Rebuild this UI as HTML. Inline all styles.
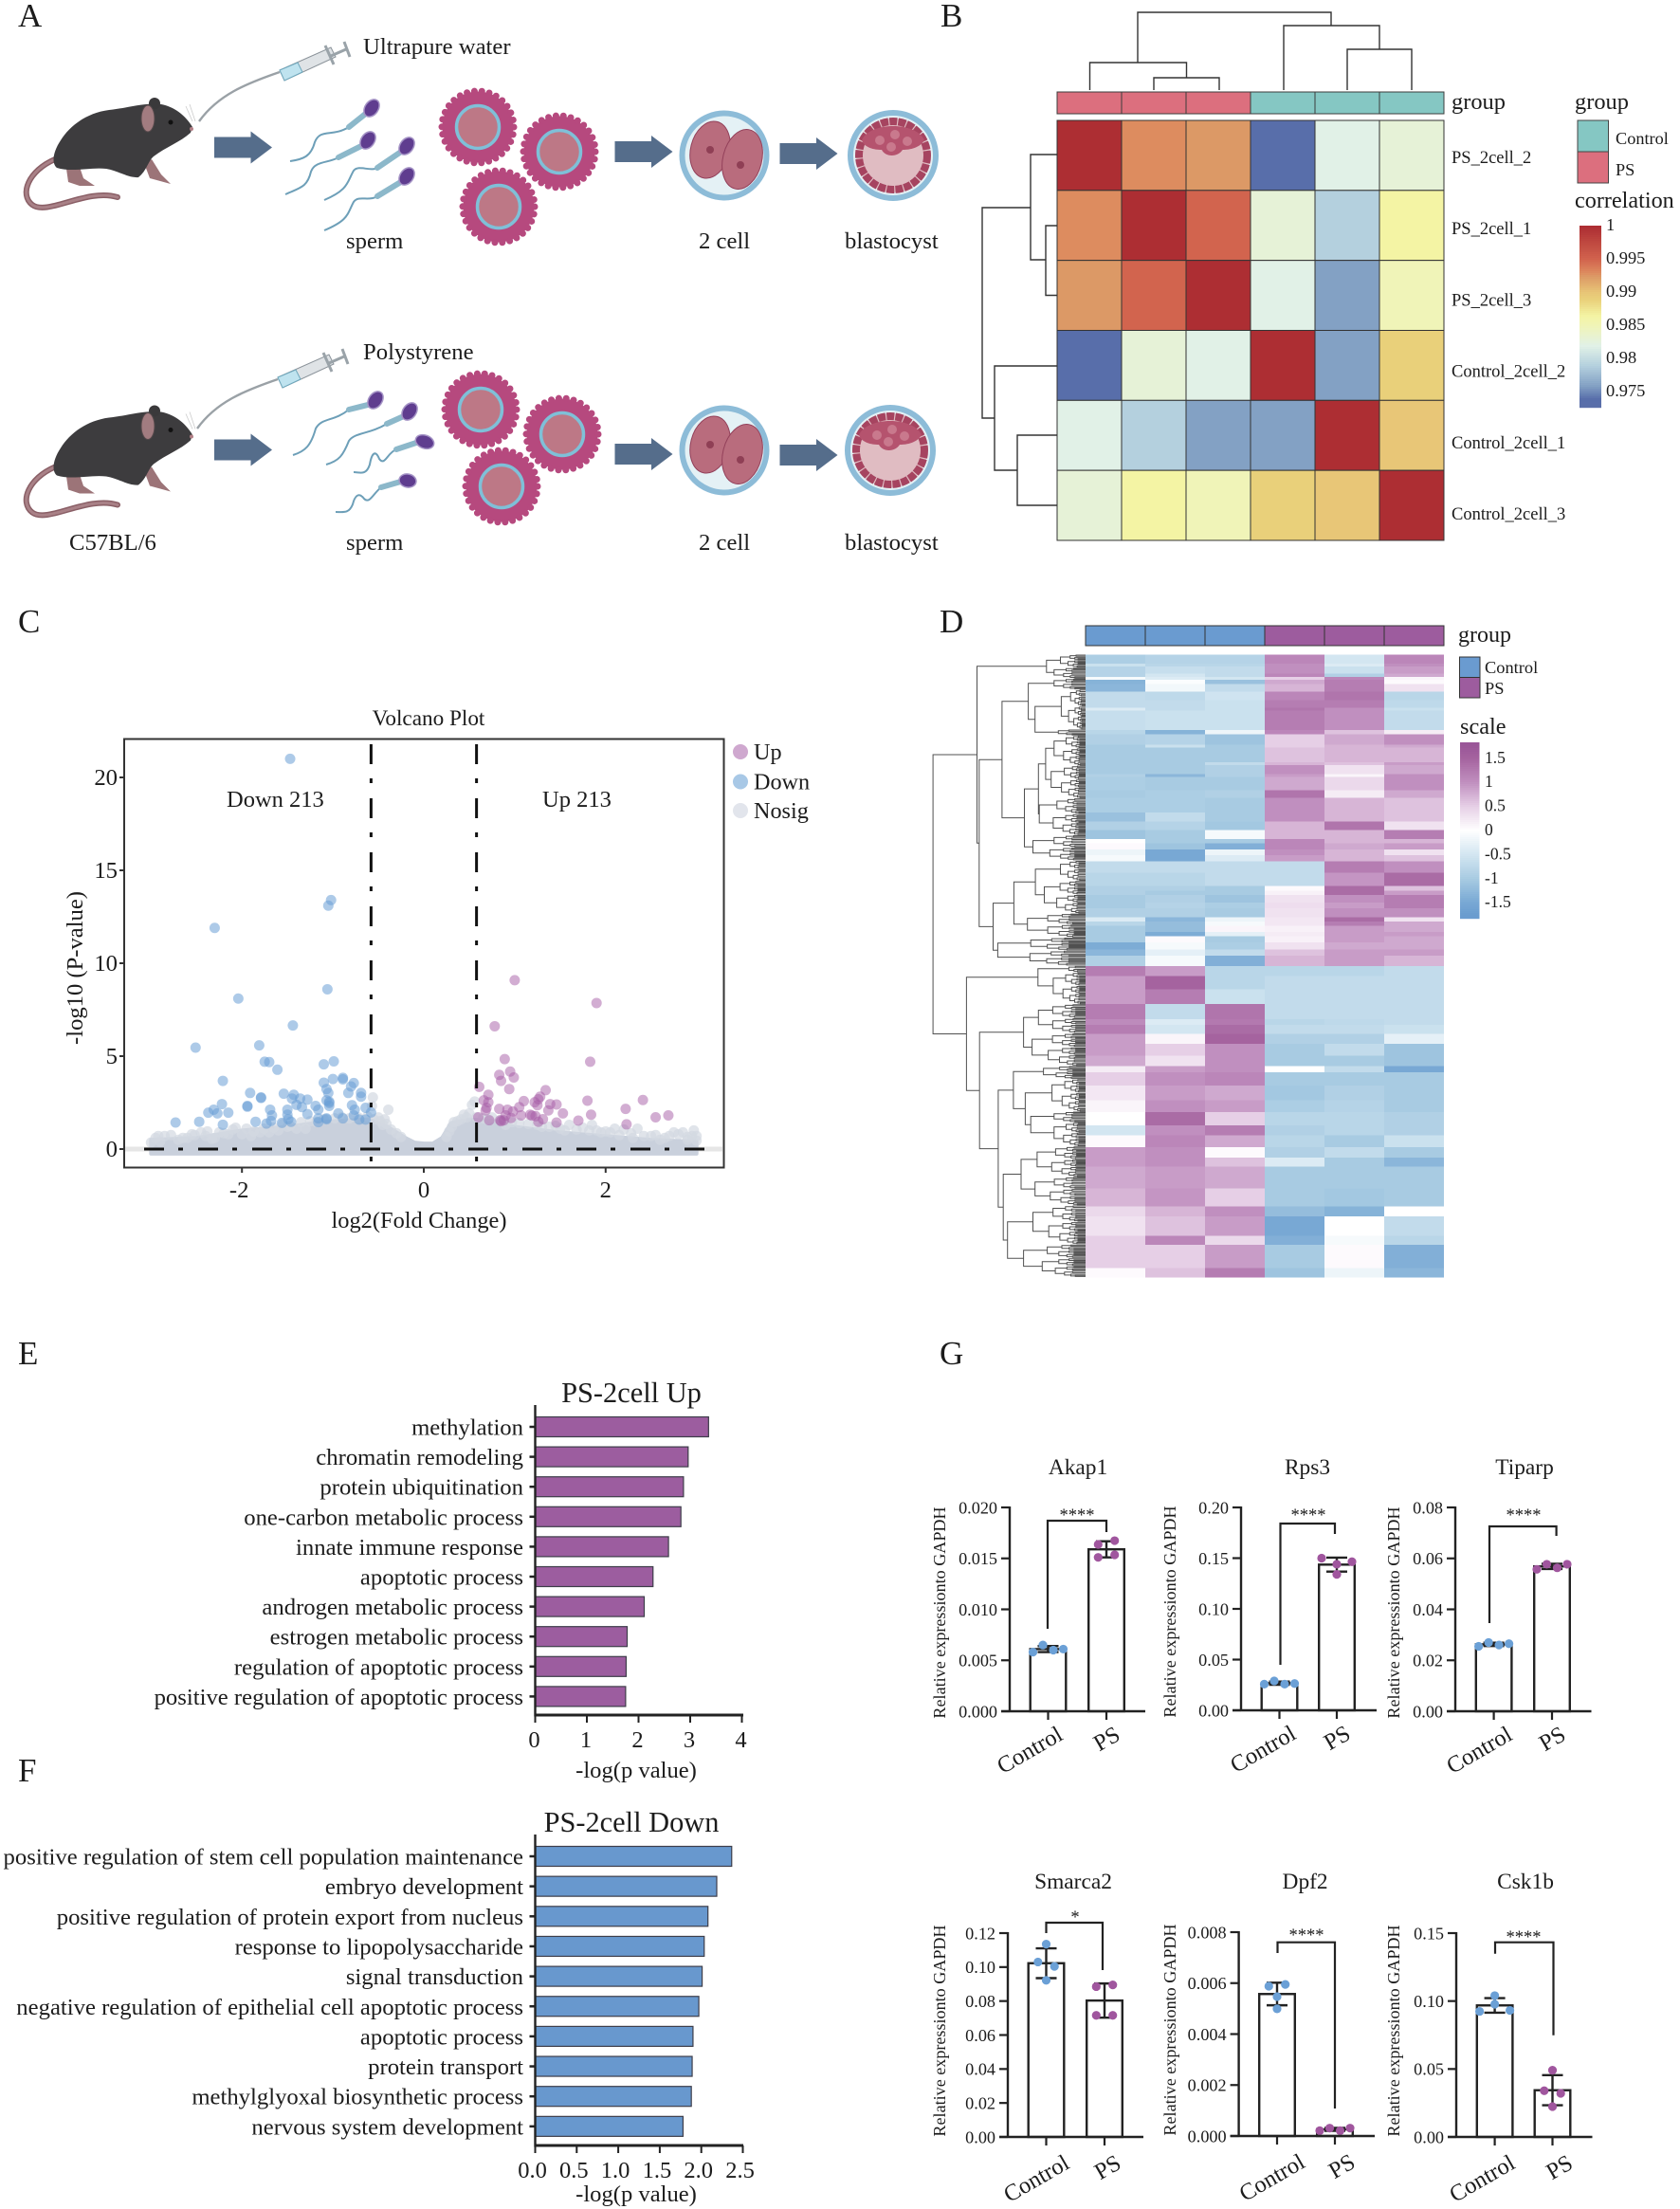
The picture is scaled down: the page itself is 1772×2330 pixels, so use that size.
<!DOCTYPE html>
<html lang="en">
<head>
<meta charset="utf-8">
<title>Multi-panel figure</title>
<style>
html,body{margin:0;padding:0;background:#fff;}
svg{display:block;}
text{font-family:"Liberation Serif","Noto Serif CJK SC",serif;fill:#1c1c1c;}
</style>
</head>
<body>
<svg id="figure" width="1772" height="2330" viewBox="0 0 1772 2330">
<defs>
  <g id="mouse-art">
    <path d="M58,168 C30,180 20,205 34,216 C50,228 92,198 124,208" fill="none" stroke="#8a5f66" stroke-width="6" stroke-linecap="round"/>
    <path d="M58,168 C30,180 20,205 34,216 C50,228 92,198 124,208" fill="none" stroke="#a98187" stroke-width="3" stroke-linecap="round"/>
    <path d="M70,178 L72,192 L84,196 L100,196 L88,188 L84,176 Z" fill="#9c7478"/>
    <path d="M152,172 L158,188 L180,194 L170,184 L160,168 Z" fill="#9c7478"/>
    <path d="M203,134 C197,124 186,113 170,110 C150,108 135,114 115,116 C92,119 74,132 64,148 C56,160 54,172 60,177 C76,182 96,176 112,178 C125,180 135,188 146,187 C155,180 156,170 162,165 C175,155 190,150 201,140 Z" fill="#3d3c3e"/>
    <circle cx="163" cy="109" r="6" fill="#3a393b"/>
    <ellipse cx="156" cy="125" rx="7" ry="14" fill="#a27c80" stroke="#55494b"/>
    <circle cx="180" cy="129" r="2.5" fill="#111"/>
    <circle cx="202" cy="136" r="2" fill="#b27f86"/>
    <path d="M200,110 L206,128 M196,112 L203,128" stroke="#ccc" stroke-width="0.8"/>
  </g>
  <g id="syringe-art">
    <path d="M295,74 L349,50 L354,60 L300,85 Z" fill="#dfe3e6" stroke="#8a9299"/>
    <path d="M295,74 L314,66 L319,76 L300,85 Z" fill="#bfe3ef" stroke="#6fa8bd"/>
    <path d="M343,48 L352,68 M349,59 L365,52 M363,44 L369,60" stroke="#9aa3a9" stroke-width="3" fill="none"/>
  </g>
  <g id="oocyte-art">
    <circle r="37.5" fill="#b6497e"/>
    <circle r="38" fill="none" stroke="#b6497e" stroke-width="7" stroke-linecap="round" stroke-dasharray="0 7.96"/>
    <circle r="22.5" fill="#bd7886" stroke="#7fc0d8" stroke-width="3.5"/>
  </g>
  <g id="twocell-art">
    <circle r="44.5" fill="#e4f1f5" stroke="#8dbcd8" stroke-width="6"/>
    <ellipse cx="-15" cy="-6" rx="20.5" ry="30.5" fill="#b96c7d" stroke="#93405a" stroke-width="1" transform="rotate(14 -15 -6)"/>
    <ellipse cx="19" cy="4" rx="20.5" ry="32" fill="#b96c7d" stroke="#93405a" stroke-width="1" transform="rotate(14 19 4)"/>
    <circle cx="-15" cy="-6" r="4" fill="#8f3f55"/>
    <circle cx="17" cy="10" r="4" fill="#8f3f55"/>
  </g>
  <g id="blastocyst-art">
    <circle r="45" fill="#e4f1f5" stroke="#8dbcd8" stroke-width="6"/>
    <circle r="39" fill="#e0bcc2"/>
    <circle r="36" fill="none" stroke="#a64460" stroke-width="8" stroke-dasharray="8 1.2"/>
    <path d="M-33,-16 C-25,-36 25,-36 33,-16 C28,-8 18,-6 10,-6 C5,2 -8,2 -12,-6 C-20,-6 -30,-8 -33,-16 Z" fill="#b5536e"/>
    <circle cx="-14" cy="-16" r="5" fill="#c9798d"/><circle cx="2" cy="-22" r="5" fill="#c9798d"/><circle cx="15" cy="-15" r="5" fill="#c9798d"/><circle cx="-2" cy="-9" r="5" fill="#c9798d"/>
  </g>
  <g id="arrow-art"><path d="M-30.5,-11 L8,-11 L8,-17 L30.5,0 L8,17 L8,11 L-30.5,11 Z" fill="#556d8b"/></g>
</defs>

<g id="panel-a">
  <text x="19" y="28" font-size="35">A</text>
  <use href="#mouse-art"/>
  <use href="#mouse-art" y="324.5"/>
  <use href="#syringe-art"/>
  <use href="#syringe-art" x="-2" y="324"/>
  <path d="M295,76 C260,88 230,100 210,128" fill="none" stroke="#9aa1a6" stroke-width="2.4"/>
  <path d="M293,400 C258,412 228,424 208,452" fill="none" stroke="#9aa1a6" stroke-width="2.4"/>
  <text x="383" y="57" font-size="24.7">Ultrapure water</text>
  <text x="383" y="379" font-size="24.7">Polystyrene</text>
  <use href="#arrow-art" x="256.5" y="155.5"/>
  <use href="#arrow-art" x="679" y="160"/>
  <use href="#arrow-art" x="853" y="162"/>
  <use href="#arrow-art" x="256.5" y="474.5"/>
  <use href="#arrow-art" x="679" y="479"/>
  <use href="#arrow-art" x="853" y="480"/>
  <g fill="none" stroke="#6d9fb8" stroke-width="2">
    <path d="M368,134 C350,145 338,135 332,150 C328,165 320,168 306,170"/>
    <path d="M355,167 C345,172 332,170 328,181 C324,198 316,198 301,205"/>
    <path d="M396,178 C388,180 378,174 373,180 C366,192 368,200 342,211"/>
    <path d="M396,208 C388,212 378,206 373,213 C366,226 368,232 342,243"/>
    <path d="M388,118 L368,134 M385,152 L357,166 M426,158 L398,177 M426,190 L398,207" stroke="#8cb8ca" stroke-width="6" stroke-linecap="round"/>
  </g>
  <g fill="#5f3d8f" stroke="#a594c6" stroke-width="1.5">
    <ellipse cx="392" cy="114" rx="7" ry="10" transform="rotate(35 392 114)"/>
    <ellipse cx="388" cy="148" rx="7" ry="10" transform="rotate(35 388 148)"/>
    <ellipse cx="429" cy="154" rx="7" ry="10" transform="rotate(35 429 154)"/>
    <ellipse cx="429" cy="186" rx="7" ry="10" transform="rotate(35 429 186)"/>
  </g>
  <g fill="none" stroke="#6d9fb8" stroke-width="2">
    <path d="M368,432 C352,445 340,440 333,452 C328,470 322,476 309,480"/>
    <path d="M408,447 C390,458 374,456 368,465 C362,480 358,486 344,490"/>
    <path d="M418,474 C408,478 406,492 400,484 C396,474 392,478 390,490 C386,502 380,498 373,498"/>
    <path d="M402,514 C394,520 390,532 384,526 C378,518 374,524 372,532 C368,542 362,540 354,540"/>
    <path d="M392,426 L368,432 M428,438 L408,447 M442,466 L418,474 M426,507 L402,514" stroke="#8cb8ca" stroke-width="6" stroke-linecap="round"/>
  </g>
  <g fill="#5f3d8f" stroke="#a594c6" stroke-width="1.5">
    <ellipse cx="396" cy="422" rx="7" ry="10" transform="rotate(35 396 422)"/>
    <ellipse cx="432" cy="434" rx="7" ry="10" transform="rotate(35 432 434)"/>
    <ellipse cx="448" cy="466" rx="10" ry="7" transform="rotate(20 448 466)"/>
    <ellipse cx="430" cy="507" rx="9" ry="7" transform="rotate(10 430 507)"/>
  </g>
  <use href="#oocyte-art" x="504" y="134"/>
  <use href="#oocyte-art" x="590" y="160"/>
  <use href="#oocyte-art" x="526" y="218"/>
  <use href="#oocyte-art" x="507" y="432"/>
  <use href="#oocyte-art" x="593" y="458"/>
  <use href="#oocyte-art" x="529" y="513"/>
  <use href="#twocell-art" x="764" y="164"/>
  <use href="#twocell-art" x="764" y="475"/>
  <use href="#blastocyst-art" x="942" y="164"/>
  <use href="#blastocyst-art" x="939" y="475"/>
  <text x="365" y="262" font-size="24.7">sperm</text>
  <text x="737" y="262" font-size="24.7">2 cell</text>
  <text x="891" y="262" font-size="24.7">blastocyst</text>
  <text x="73" y="580" font-size="24.7">C57BL/6</text>
  <text x="365" y="580" font-size="24.7">sperm</text>
  <text x="737" y="580" font-size="24.7">2 cell</text>
  <text x="891" y="580" font-size="24.7">blastocyst</text>
</g>

<g id="panel-b">
  <text x="992" y="28" font-size="35">B</text>
  <path fill="none" stroke="#333" stroke-width="1.4" d="M1149.5,95 V66 H1251.5 V82 M1217,95 V82 H1286 V95 M1200,66 V13 H1404 V27 M1354,95 V27 H1455 V52 M1421,95 V52 H1489 V95"/>
  <path fill="none" stroke="#333" stroke-width="1.4" d="M1115,163 H1087 V274 H1103 M1115,238 H1103 V311.5 H1115 M1087,219 H1036 V441 H1049 M1115,386 H1049 V496 H1073 M1115,459 H1073 V533 H1115"/>
  <g id="b-annot"></g><g id="b-cells"></g>
  <text x="1531" y="115" font-size="24.4">group</text>
  <text x="1661" y="115" font-size="24.4">group</text>
  <rect x="1664" y="127" width="32.5" height="33" fill="#85c7c3" stroke="#444" stroke-width="1"/>
  <rect x="1664" y="160" width="32.5" height="33" fill="#dc6f7e" stroke="#444" stroke-width="1"/>
  <text x="1704" y="152" font-size="18.3">Control</text>
  <text x="1704" y="185" font-size="18.3">PS</text>
  <text x="1661" y="219" font-size="24.2">correlation</text>
  <g id="b-colorbar"></g>
</g>

<g id="panel-c">
  <text x="19" y="667" font-size="35">C</text>
  <g id="c-plot"></g>
</g>

<g id="panel-d">
  <text x="991" y="667" font-size="35">D</text>
  <path id="d-tree" fill="none" stroke="#505050" stroke-width="1"/>
  <g id="d-annot"></g><g id="d-cells"></g>
  <text x="1538" y="677" font-size="24">group</text>
  <rect x="1539.5" y="693" width="21.5" height="21.5" fill="#6a9bd0" stroke="#333" stroke-width="1"/>
  <rect x="1539.5" y="714.5" width="21.5" height="21.5" fill="#9d5c9e" stroke="#333" stroke-width="1"/>
  <text x="1566" y="710" font-size="18.4">Control</text>
  <text x="1566" y="732" font-size="18.4">PS</text>
  <text x="1540" y="774" font-size="24.3">scale</text>
  <g id="d-colorbar"></g>
</g>

<g id="panel-e">
  <text x="19" y="1439" font-size="35">E</text>
  <text x="666" y="1479" font-size="30.4" text-anchor="middle">PS-2cell Up</text>
  <g id="e-plot"></g>
  <text x="671" y="1875" font-size="24.6" text-anchor="middle">-log(p value)</text>
</g>

<g id="panel-f">
  <text x="19" y="1879" font-size="35">F</text>
  <text x="666" y="1932" font-size="30.4" text-anchor="middle">PS-2cell Down</text>
  <g id="f-plot"></g>
  <text x="671" y="2322" font-size="24.6" text-anchor="middle">-log(p value)</text>
</g>

<g id="panel-g">
  <text x="991" y="1439" font-size="35">G</text>
  <g id="g-plots"></g>
</g>
</svg>

<script>
/* ---------- Panel B data ---------- */
const corrRowLabels = ['PS_2cell_2','PS_2cell_1','PS_2cell_3','Control_2cell_2','Control_2cell_1','Control_2cell_3'];
const corrRow1 = [1, .993, .9925, .974, .982, .983];
const corrRow2 = [.993, 1, .995, .983, .979, .9865];
const corrRow3 = [.9925, .995, 1, .982, .976, .985];
const corrRow4 = [.974, .983, .982, 1, .976, .989];
const corrRow5 = [.982, .979, .976, .976, 1, .99];
const corrRow6 = [.983, .9865, .985, .989, .99, 1];
const corrTicks = [1, .995, .99, .985, .98, .975];
const corrTickLabels = ['1','0.995','0.99','0.985','0.98','0.975'];

/* ---------- Panel C data ---------- */
const volcanoXTicks = [-2, 0, 2];
const volcanoYTicks = [0, 5, 10, 15, 20];
const volcanoThresholds = [-0.58, 0.58];
const downX = [-1.47,-1.02,-1.05,-2.3,-1.06,-2.04,-1.44,-2.51,-1.81,-1.75,-1.7,-1.61,-1.1,-.99,-2.21,-.89,-.89,-1,-1.1,-.77,-.8,-1.07,-.83,-1.05,-1.91,-1.54,-.69,-.69,-1.79,-1.79,-1.43,-1.45,-1.36,-1.28,-1.07,-1.04,-1.04,-2.22,-1.94,-1.94,-1.4,-1.34,-1.19,-1.16,-.79,-1.04,-.64,-.76,-1.69,-1.5,-2.31,-2.37,-2.27,-2.15,-1.67,-1.5,-1.28,-.94,-.77,-.58,-1.07,-.89,-1.16,-1.49,-1.85,-1.68,-2.47,-2.73,-1.73,-1.56,-1.46,-2.21,-.71,-.64,-1.07,-1.16];
const downY = [21,13.4,13.1,11.9,8.6,8.1,6.65,5.46,5.58,4.7,4.68,4.27,4.56,4.72,3.67,3.83,3.75,3.77,3.57,3.55,3.37,3.23,3.02,3.02,3.02,2.98,3.02,2.82,2.78,2.75,2.92,2.72,2.72,2.66,2.62,2.48,2.55,2.42,2.32,2.28,2.38,2.26,2.32,2.12,2.36,2.32,2.22,2.12,2.12,2.12,2.12,1.96,1.92,1.96,1.81,1.85,1.88,1.92,1.81,1.97,1.65,1.65,1.65,1.61,1.47,1.51,1.47,1.43,1.37,1.41,1.47,1.31,1.59,1.59,1.6,1.45];
const upX = [1,1.9,.78,.89,1.83,.95,.83,.85,.99,.61,.94,1.34,.71,1.28,1.26,.66,.71,1.8,2.41,1.1,1.22,1.39,1.46,1.25,1.05,.69,.68,.83,.92,.98,1.37,2.22,1.53,1.84,1.17,1.07,.9,.6,1.23,.96,2.55,2.69,1.31,.84,.72,1.46,1.7,2.23,1.26,1.19,.85,.88];
const upY = [9.09,7.86,6.61,4.84,4.7,4.17,3.99,3.67,3.85,3.35,3.23,3.17,2.92,2.82,2.68,2.62,2.52,2.6,2.64,2.58,2.52,2.42,2.4,2.36,2.26,2.22,2.08,2.16,2.12,2.02,2.08,2.16,1.92,1.85,1.85,1.81,1.81,1.71,1.77,1.67,1.71,1.81,1.61,1.55,1.55,1.43,1.53,1.33,1.47,1.8,1.5,1.55];
const nosigX = [-2.95,-2.9,-2.85,-2.7,-2.6,-2.55,-2.45,-2.4,-2.3,-2.25,-2.15,-2.07,-2,-1.9,-1.8,-1.7,-1.6,-1.5,-1.4,-1.3,-.56,-.57,-.39,-.43,-.5,-.45,.53,.56,.44,.5,.31,.7,.9,1.3,1.5,1.6,1.85,1.9,1.95,2.05,2.1,2.2,2.35,2.5,2.7,2.75,2.85,2.95,2.97,3,2.9,2.6,2.3,
  -3,-2.92,-2.78,-2.65,-2.52,-2.38,-2.33,-2.2,-2.1,-1.95,-1.87,-1.76,-1.65,-1.55,-1.47,-1.35,-1.25,-1.18,-1.1,-.98,-.9,-.82,-.72,-.62,-.55,-.48,-.41,-.36,-.3,-.25,.25,.28,.33,.37,.41,.47,.58,.65,.75,.85,.97,1.05,1.15,1.25,1.38,1.45,1.55,1.68,1.75,1.82,2,2.15,2.28,2.42,2.55,2.65,2.8,2.9,3];
const nosigY = [.6,.4,.7,.5,.6,.8,.9,.7,.6,.9,.8,1.15,.8,.7,.9,.9,1,1.2,1.1,1.1,2.78,2.32,2.12,1.6,1.7,1.3,2.38,2.56,1.85,1.92,1.2,1.6,1.3,1.2,1.1,1.3,1.3,1,.9,.9,1.1,1.05,1.1,.7,.7,.9,.9,.7,1,.7,.5,.5,.6,
  .35,.7,.75,.6,.75,.95,.55,.85,1.05,1.1,.95,1.1,1.15,1.35,1.25,1.45,1.5,1.45,1.6,1.65,1.7,1.65,1.7,1.75,1.6,1.5,1.35,1.05,.85,.65,.65,.95,1.45,1.5,1.6,1.7,1.7,1.65,1.7,1.55,1.45,1.4,1.35,1.3,1.2,1.25,1,1.05,1.15,1,.95,.75,.85,.7,.75,.6,.8,.65,.45];
const nosigEdgeX = [-3,-2.5,-2,-1.5,-1.2,-1,-.8,-.6,-.5,-.4,-.3,-.2,-.1,0,.1,.2,.3,.4,.5,.8,1,1.5,2,2.5,3];
const nosigEdgeY = [.5,.6,1,1.2,1.4,1.5,1.55,1.6,1.4,1.2,.9,.6,.35,.3,.3,.6,1.4,1.5,1.6,1.5,1.2,.9,.7,.5,.4];

/* ---------- Panel D data ---------- */
const heatColumns = ['Control_1','Control_2','Control_3','PS_1','PS_2','PS_3'];
const scaleTicks = [1.5, 1, .5, 0, -.5, -1, -1.5];
const scaleTickLabels = ['1.5','1','0.5','0','-0.5','-1','-1.5'];
const heatRowCounts = [6,2,5,2,2,3,5,6,5,2,13,3,7,2,10,2,6,2,9,5,10,6,6,6,3,4,4,4,8,9,3,3,5,4,6,3,3,4,3,4,5,4,7,
  7,9,10,10,4,6,7,8,7,4,9,10,8,9,7,8,7,6,15,12,7,13,6,16,6];
const heatBands = [
[-.95,-.85,-.85,1.1,-.5,1.1],[-.6,-.8,-.8,1,-.4,1],[-.85,-.65,-.7,1,-.6,.9],[-.85,-.5,-.7,1.1,-.9,.8],
[-.1,-.4,-.5,.5,1.1,.1],[-1.35,-.05,-1.15,.8,1.2,.05],[-1.3,-.15,-.7,.7,1.2,.3],
[-.7,-.75,-.55,1.1,1.3,-.8],[-.7,-.7,-.6,1.2,1.2,-.75],[-.4,-.7,-.6,1.3,1,-.6],[-.65,-.6,-.6,1.2,1,-.7],
[-.8,-1.35,-.2,1.1,.6,.2],[-.9,-.85,-1.1,.5,.8,1],[-1,-.6,-1,.5,.7,.8],[-1,-1,-1,.6,.7,.7],[-1,-1,-.7,.7,.6,.9],
[-1,-1,-.9,1,.3,.8],[-.9,-1.3,-.9,.9,.1,1],[-.95,-1,-1,.8,.4,1],[-1,-.95,-.9,1.3,.2,.8],[-.95,-.95,-1,1,.7,.6],
[-1.15,-.7,-1,1,.7,.6],[-.9,-.85,-1.05,.7,1.3,.3],[-1.1,-1,-.1,.7,.7,1.2],[0,-1,-1,1.1,.7,.7],[.05,-1.1,-1.4,1.1,.8,.9],
[-.2,-1.5,-.2,1,.7,.3],[-.1,-1.5,-.4,.9,.7,.6],[-.7,-.7,-.7,-.7,1.2,1],[-.8,-.8,-.7,-.7,.95,1.4],[-.9,-.9,-1,.05,1.4,.6],
[-.9,-1,-1,.15,1.4,.9],[-1,-.9,-1.1,.3,1,1.2],[-1,-.85,-.95,.35,.9,1.2],[-.9,-.9,-1,.3,1,1],[-.4,-1.3,-.2,.25,1.4,.3],
[-.8,-1.2,-.1,.25,1.2,.8],[-1,-1.2,.1,.15,.9,.8],[-1,-1.45,-.3,.2,.9,.9],[-1,.05,-1,.15,.9,.8],[-1.45,-.1,-.95,.3,.8,.8],
[-1.3,-.3,-.7,.6,.9,.9],[-.9,-.1,-1.4,.7,.9,.7],
[1.2,.9,-.8,-.8,-.8,-.7],[.9,1.5,-.8,-.7,-.7,-.7],[.9,1.2,-.6,-.7,-.7,-.7],[1.2,-.7,1.3,-.7,-.7,-.7],[1.05,-.4,1.25,-.8,-.75,-.7],
[1.2,-.5,1.4,-.7,-.7,-.6],[.9,.1,1.5,-.9,-.9,-.3],[.9,.5,1,-1,-.7,-1.1],[.8,.3,1,-1,-1,-1.1],[.2,.9,1,0,-.7,-1.5],
[.5,1,1.1,-1,-1,-1],[.25,.9,.8,-1.05,-.9,-1],[.1,1,.9,-.95,-.85,-1],[0,1.4,.5,-.8,-.8,-.9],[-.5,1,1.2,-.9,-.8,-.9],
[.05,1.1,.8,-.8,-1,-.6],[.9,1,.05,-.9,-.7,-1],[.9,1,.6,-.4,-1,-1.3],[.8,.9,.8,-1,-1,-1],[.7,.95,.5,-1,-1.05,-1],
[.4,.7,1,-1.2,-1.35,0],[.3,.6,.9,-1.5,0,-.7],[.5,1.1,.4,-1.4,-.1,-.8],[.5,.5,.9,-1,.05,-1.4],[.05,.6,1.2,-1.1,-.2,-1.3]
];

/* ---------- Panels E / F data ---------- */
const upTerms = ['methylation','chromatin remodeling','protein ubiquitination','one-carbon metabolic process','innate immune response','apoptotic process','androgen metabolic process','estrogen metabolic process','regulation of apoptotic process','positive regulation of apoptotic process'];
const upValues = [3.355,2.96,2.87,2.82,2.58,2.28,2.11,1.78,1.76,1.75];
const upTicks = [0,1,2,3,4];
const upTickLabels = ['0','1','2','3','4'];
const downTerms = ['positive regulation of stem cell population maintenance','embryo development','positive regulation of protein export from nucleus','response to lipopolysaccharide','signal transduction','negative regulation of epithelial cell apoptotic process','apoptotic process','protein transport','methylglyoxal biosynthetic process','nervous system development'];
const downValues = [2.366,2.186,2.08,2.035,2.01,1.97,1.9,1.89,1.88,1.78];
const downTicks = [0,.5,1,1.5,2,2.5];
const downTickLabels = ['0.0','0.5','1.0','1.5','2.0','2.5'];

/* ---------- Panel G data ---------- */
const groupNames = ['Control','PS'];
const akap1Control = [.0058,.0065,.006,.0061];
const akap1PS = [.01637,.01674,.01535,.0151];
const akap1Ticks = ['0.000','0.005','0.010','0.015','0.020'];
const rps3Control = [.0258,.029,.0258,.0264];
const rps3PS = [.15,.144,.1465,.134];
const rps3Ticks = ['0.00','0.05','0.10','0.15','0.20'];
const tiparpControl = [.0255,.027,.026,.0265];
const tiparpPS = [.0557,.0577,.0563,.0577];
const tiparpTicks = ['0.00','0.02','0.04','0.06','0.08'];
const smarca2Control = [.1135,.103,.1004,.0922];
const smarca2PS = [.0885,.0895,.0716,.0716];
const smarca2Ticks = ['0.00','0.02','0.04','0.06','0.08','0.10','0.12'];
const dpf2Control = [.00588,.00595,.00547,.00499];
const dpf2PS = [.00021,.00031,.00021,.00031];
const dpf2Ticks = ['0.000','0.002','0.004','0.006','0.008'];
const csk1bControl = [.104,.0977,.0924,.0931];
const csk1bPS = [.0491,.034,.0321,.0223];
const csk1bTicks = ['0.00','0.05','0.10','0.15'];

/* ---------- helpers ---------- */
const NS = document.getElementById('figure').namespaceURI;
function add(parent, tag, attrs, name, interact) {
  const el = document.createElementNS(NS, tag);
  for (const k in attrs) el.setAttribute(k, attrs[k]);
  
  
  parent.appendChild(el);
  return el;
}
function txt(parent, x, y, str, size, anchor, name, extra) {
  const el = add(parent, 'text', Object.assign({x: x, y: y, 'font-size': size, 'text-anchor': anchor || 'start'}, extra || {}), name);
  el.textContent = str;
  return el;
}
function $(id) { return document.getElementById(id); }
function hex(c) { return [parseInt(c.slice(1,3),16), parseInt(c.slice(3,5),16), parseInt(c.slice(5,7),16)]; }
function ramp(stops, v) {
  if (v <= stops[0][0]) return stops[0][1];
  for (let i = 1; i < stops.length; i++) {
    if (v <= stops[i][0]) {
      const t = (v - stops[i-1][0]) / (stops[i][0] - stops[i-1][0]);
      const a = hex(stops[i-1][1]), b = hex(stops[i][1]);
      return 'rgb(' + a.map((p, j) => Math.round(p + (b[j] - p) * t)).join(',') + ')';
    }
  }
  return stops[stops.length-1][1];
}

/* ---------- Panel B ---------- */
(function () {
  const stops = [[.9726,'#5a6ea9'],[.974,'#586eaa'],[.976,'#83a1c4'],[.979,'#b4d0de'],[.982,'#e1f1e7'],[.985,'#f0f4b8'],[.9865,'#f4f4a4'],[.989,'#e9d07a'],[.99,'#e8c677'],[.9925,'#dc9966'],[.993,'#dd8c5f'],[.995,'#d2644e'],[1,'#ad2e33']];
  const rows = [corrRow1, corrRow2, corrRow3, corrRow4, corrRow5, corrRow6];
  const X = 1115, Y = 127, W = 68, H = 73.83;
  const annColors = ['#dc6f7e','#dc6f7e','#dc6f7e','#85c7c3','#85c7c3','#85c7c3'];
  annColors.forEach((c, i) => {
    add($('b-annot'), 'rect', {x: X + i * W, y: 97, width: W, height: 23, fill: c, stroke: '#3c3c3c', 'stroke-width': 1}, 'annotation-cell');
  });
  rows.forEach((row, r) => {
    row.forEach((v, c) => {
      add($('b-cells'), 'rect', {x: X + c * W, y: Y + r * H, width: W, height: H, fill: ramp(stops, v), stroke: '#333', 'stroke-width': 1}, 'correlation-cell');
    });
    txt($('b-cells'), 1531, 172 + r * 75.2, corrRowLabels[r], 18.5, 'start', 'row-label');
  });
  const cbTop = 238, cbBot = 429;
  const corrY = v => cbTop + (1 - v) / .005 * 35;
  for (let y = cbTop; y < cbBot; y += 2) {
    add($('b-colorbar'), 'rect', {x: 1666, y: y, width: 23, height: 2.2, fill: ramp(stops, 1 - (y - cbTop) / 35 * .005)}, 'colorbar-segment');
  }
  corrTicks.forEach((t, i) => {
    txt($('b-colorbar'), 1694, corrY(t) + 5, corrTickLabels[i], 18.4, 'start', 'colorbar-tick-label');
  });
})();

/* ---------- Panel C ---------- */
(function () {
  const g = $('c-plot');
  const x = v => 447 + 95.9 * v;
  const y = v => 1212 - 19.6 * v;
  txt(g, 452, 765, 'Volcano Plot', 23.2, 'middle', 'chart-title');
  add(g, 'line', {x1: 132, x2: 762, y1: y(0), y2: y(0), stroke: '#e6e6e6', 'stroke-width': 5}, 'zero-band');
  let d = 'M' + x(nosigEdgeX[0]) + ',' + y(-.25);
  nosigEdgeX.forEach((vx, i) => { d += ' L' + x(vx) + ',' + y(nosigEdgeY[i]); });
  d += ' L' + x(nosigEdgeX[nosigEdgeX.length-1]) + ',' + y(-.25) + ' Z';
  add(g, 'path', {d: d, fill: '#c9d0dc', stroke: '#c9d0dc', 'stroke-width': 4, 'stroke-linejoin': 'round'}, 'nosig-density-area');
  nosigX.forEach((vx, i) => {
    add(g, 'circle', {cx: x(vx), cy: y(nosigY[i]), r: 5.5, fill: '#d3d8e1', 'fill-opacity': .7}, 'point-nosig');
  });
  downX.forEach((vx, i) => {
    add(g, 'circle', {cx: x(vx), cy: y(downY[i]), r: 5.5, fill: '#6a9fd6', 'fill-opacity': .55}, 'point-down');
  });
  upX.forEach((vx, i) => {
    add(g, 'circle', {cx: x(vx), cy: y(upY[i]), r: 5.5, fill: '#a65ba5', 'fill-opacity': .5}, 'point-up');
  });
  volcanoThresholds.forEach(t => {
    add(g, 'line', {x1: x(t), x2: x(t), y1: 785, y2: 1231, stroke: '#111', 'stroke-width': 3, 'stroke-dasharray': '21 15 5 16'}, 'threshold-line-vertical');
  });
  add(g, 'line', {x1: 152, x2: 752, y1: y(0), y2: y(0), stroke: '#111', 'stroke-width': 3, 'stroke-dasharray': '21 15 5 16'}, 'threshold-line-horizontal');
  add(g, 'rect', {x: 131, y: 779.5, width: 632.5, height: 452, fill: 'none', stroke: '#333', 'stroke-width': 2}, 'plot-frame');
  volcanoXTicks.forEach(t => {
    add(g, 'line', {x1: x(t), x2: x(t), y1: 1232, y2: 1237, stroke: '#333', 'stroke-width': 2}, 'x-tick');
    txt(g, x(t) - (t < 0 ? 3 : 0), 1263, String(t), 24.7, 'middle', 'x-tick-label');
  });
  volcanoYTicks.forEach(t => {
    add(g, 'line', {x1: 126, x2: 131, y1: y(t), y2: y(t), stroke: '#333', 'stroke-width': 2}, 'y-tick');
    txt(g, 124, y(t) + 8, String(t), 24.7, 'end', 'y-tick-label');
  });
  txt(g, 442, 1295, 'log2(Fold Change)', 24.4, 'middle', 'x-axis-title');
  txt(g, 0, 0, '-log10 (P-value)', 24.6, 'middle', 'y-axis-title', {transform: 'translate(87 1021) rotate(-90)'});
  txt(g, 239, 851, 'Down 213', 24.5, 'start', 'annotation-down-count');
  txt(g, 572, 851, 'Up 213', 24.5, 'start', 'annotation-up-count');
  const legend = [['Up', '#cfa8cf', 793], ['Down', '#a8c8e6', 824.5], ['Nosig', '#e2e5ec', 855]];
  legend.forEach(l => {
    add(g, 'circle', {cx: 781, cy: l[2], r: 8, fill: l[1]}, 'legend-marker');
    txt(g, 795, l[2] + 8, l[0], 24.2, 'start', 'legend-label');
  });
})();

/* ---------- Panel D ---------- */
(function () {
  const stops = [[-1.75,'#6a9ccf'],[-1.5,'#78a8d4'],[-1,'#a8cbe2'],[-.5,'#d3e6f1'],[0,'#ffffff'],[.5,'#e6cfe6'],[1,'#c08fbf'],[1.5,'#a5639f'],[1.75,'#9a5698']];
  const X = 1145, Y = 690.5, W = 63, HT = 656.5;
  const total = heatRowCounts.reduce((a, b) => a + b, 0);
  const rowH = HT / total;
  heatColumns.forEach((n, i) => {
    add($('d-annot'), 'rect', {x: X + i * W, y: 660, width: W, height: 21, fill: i < 3 ? '#6a9bd0' : '#9d5c9e', stroke: '#333', 'stroke-width': 1}, 'annotation-cell');
  });
  let rowsSoFar = 0;
  heatBands.forEach((band, b) => {
    const n = heatRowCounts[b];
    band.forEach((z, c) => {
      add($('d-cells'), 'rect', {x: X + c * W, y: Y + rowsSoFar * rowH, width: W, height: n * rowH + .4, fill: ramp(stops, z), 'shape-rendering': 'crispEdges'}, 'heatmap-cell');
    });
    rowsSoFar += n;
  });
  const barTop = 783, barBot = 969, zY = z => 875 - z * 50.8;
  for (let y = barTop; y < barBot; y += 2) {
    add($('d-colorbar'), 'rect', {x: 1540, y: y, width: 20.5, height: 2.2, fill: ramp(stops, (875 - y) / 50.8)}, 'colorbar-segment');
  }
  scaleTicks.forEach((t, i) => {
    txt($('d-colorbar'), 1566, zY(t) + 6, scaleTickLabels[i], 17.5, 'start', 'colorbar-tick-label');
  });

  /* dendrogram skeleton: [branch position, child, child], terminal clusters hold their row span */
  const zx = x => x / 2.24 + 960, zy = y => y / 2.178 + 640;
  const A = [158,
    [322, [355,110,140], [340,140,165]],
    [163,
      [217,
        [279, [340,165,190], [295, [357,190,282], [350,282,296]]],
        [270,
          [303, [320, [340,296,365], [333,365,440]], [305,440,525]],
          [290, [340,525,553], [330,553,583]]]],
      [196,
        [245, [296, [355,583,630], [317,630,705]], [277, [325,705,730], [325,730,760]]],
        [207, [285,760,790], [283,790,825]]]]];
  const B = [133,
    [302, [375,825,840], [338,840,913]],
    [164,
      [268, [303, [337,913,945], [337,945,980]], [288,980,1055]],
      [208,
        [244, [315,1055,1085], [272, [335,1085,1160], [285, [340,1160,1185], [340,1185,1240]]]],
        [220,
          [262, [300,1240,1310], [295,1310,1375]],
          [230, [290,1375,1465], [268,1465,1540]]]]]];
  const treeRoot = [54, A, B];
  let path = '';
  function link(px, k1, k2) {
    path += 'M' + zx(k1.x).toFixed(1) + ',' + zy(k1.y).toFixed(1) + 'H' + zx(px).toFixed(1) +
            'V' + zy(k2.y).toFixed(1) + 'H' + zx(k2.x).toFixed(1);
  }
  function fan(x, y1, y2) {
    if (y2 - y1 <= 4) return {x: 415, y: (y1 + y2) / 2};
    const split = y1 + (y2 - y1) * .42;
    const a = fan(x + (415 - x) * .38, y1, split);
    const b = fan(x + (415 - x) * .3, split, y2);
    link(x, a, b);
    return {x: x, y: (a.y + b.y) / 2};
  }
  function walk(node) {
    if (typeof node[1] === 'number') return fan(node[0], node[1], node[2]);
    const a = walk(node[1]), b = walk(node[2]);
    link(node[0], a, b);
    return {x: node[0], y: (a.y + b.y) / 2};
  }
  walk(treeRoot);
  $('d-tree').setAttribute('d', path);
})();

/* ---------- Panels E / F ---------- */
function hbars(g, terms, values, ticks, tickLabels, o) {
  const x = v => o.x0 + v * o.unit;
  values.forEach((v, i) => {
    const cy = o.first + i * o.step;
    add(g, 'rect', {x: o.x0, y: cy - 10.5, width: x(v) - o.x0, height: 21, fill: o.fill, stroke: '#3e3e4a', 'stroke-width': 1.2}, 'bar');
    add(g, 'line', {x1: o.x0 - 6, x2: o.x0, y1: cy, y2: cy, stroke: '#222', 'stroke-width': 2.5}, 'y-tick');
    txt(g, 552, cy + 8.5, terms[i], 24.7, 'end', 'term-label');
  });
  add(g, 'line', {x1: o.x0, x2: o.x0, y1: o.top, y2: o.bottom + 1.5, stroke: '#222', 'stroke-width': 2.4}, 'y-axis-line');
  add(g, 'line', {x1: o.x0 - 1, x2: 784, y1: o.bottom, y2: o.bottom, stroke: '#222', 'stroke-width': 3}, 'x-axis-line');
  ticks.forEach((t, i) => {
    add(g, 'line', {x1: x(t), x2: x(t), y1: o.bottom, y2: o.bottom + 8, stroke: '#222', 'stroke-width': 2}, 'x-tick');
    txt(g, x(t) + o.labelShift, o.bottom + 34, tickLabels[i], 24.5, 'middle', 'x-tick-label');
  });
}
hbars($('e-plot'), upTerms, upValues, upTicks, upTickLabels, {x0: 564.5, unit: 54.5, first: 1505, step: 31.6, top: 1482, bottom: 1809, fill: '#9c5d9f', labelShift: -1});
hbars($('f-plot'), downTerms, downValues, downTicks, downTickLabels, {x0: 564.5, unit: 87.6, first: 1958, step: 31.65, top: 1935, bottom: 2263, fill: '#6898ce', labelShift: -3});

/* ---------- Panel G ---------- */
const spread = [-16, -5.5, 5.5, 16], diamond = [0, -8.7, 8.7, 0], square = [-8.7, 8.7, 8.7, -8.7];
const genePanels = [
  {name:'Akap1', control:akap1Control, ps:akap1PS, ticks:akap1Ticks, yMax:.02, axisX:1065, y0:1805, yTop:1590, xEnd:1208, c1:1105.5, c2:1167, titleX:1137, titleY:1555, ylabX:997, ylabUp:104, labDx:[-6,-7], labDy:-4, offs1:spread, offs2:square, br:[1105,1718,1604,1167,1616], star:'****', starX:1136, starY:1604},
  {name:'Rps3', control:rps3Control, ps:rps3PS, ticks:rps3Ticks, yMax:.2, axisX:1309, y0:1804, yTop:1590, xEnd:1452, c1:1349.5, c2:1410, titleX:1379, titleY:1555, ylabX:1240, ylabUp:104, labDx:[-4,-7], labDy:-4, offs1:spread, offs2:[-16,0,16,0], br:[1350.5,1756,1607,1408,1618], star:'****', starX:1380, starY:1604},
  {name:'Tiparp', control:tiparpControl, ps:tiparpPS, ticks:tiparpTicks, yMax:.08, axisX:1535, y0:1805, yTop:1590, xEnd:1678.5, c1:1575.6, c2:1637, titleX:1608, titleY:1555, ylabX:1476, ylabUp:104, labDx:[-2,-7], labDy:-4, offs1:spread, offs2:spread, br:[1571,1712,1610,1641.6,1620], star:'****', starX:1607, starY:1604},
  {name:'Smarca2', control:smarca2Control, ps:smarca2PS, ticks:smarca2Ticks, yMax:.12, axisX:1063, y0:2254, yTop:2039, xEnd:1206, c1:1103.5, c2:1165, titleX:1132, titleY:1992, ylabX:997, ylabUp:112, labDx:[3,-4], labDy:-1, offs1:diamond, offs2:square, br:[1103.5,2039,2028,1163,2078], star:'*', starX:1134, starY:2028},
  {name:'Dpf2', control:dpf2Control, ps:dpf2PS, ticks:dpf2Ticks, yMax:.008, axisX:1306.6, y0:2253, yTop:2038, xEnd:1450, c1:1347, c2:1408, titleX:1376.6, titleY:1992, ylabX:1240, ylabUp:112, labDx:[8,0], labDy:-1, offs1:[-8.7,8.7,0,0], offs2:spread, br:[1347.5,2060,2048.7,1408,2224], star:'****', starX:1378, starY:2047},
  {name:'Csk1b', control:csk1bControl, ps:csk1bPS, ticks:csk1bTicks, yMax:.15, axisX:1536, y0:2254, yTop:2039, xEnd:1679.5, c1:1576.6, c2:1637.5, titleX:1609, titleY:1992, ylabX:1476, ylabUp:112, labDx:[0,0], labDy:-1, offs1:[0,0,-16,16], offs2:diamond, br:[1577,2060.7,2048.7,1638.5,2146.7], star:'****', starX:1607, starY:2049}
];
function mean(a) { return a.reduce((s, v) => s + v, 0) / a.length; }
function sd(a) { const m = mean(a); return Math.sqrt(a.reduce((s, v) => s + (v - m) * (v - m), 0) / (a.length - 1)); }
genePanels.forEach(p => {
  const g = add($('g-plots'), 'g', {}, 'gene-chart-' + p.name.toLowerCase());
  const y = v => p.y0 - v / p.yMax * (p.y0 - p.yTop);
  txt(g, p.titleX, p.titleY, p.name, 23.4, 'middle', 'gene-title');
  [[p.control, p.c1, p.offs1, '#6ba0d6'], [p.ps, p.c2, p.offs2, '#a0569e']].forEach((s, k) => {
    const m = mean(s[0]), e = sd(s[0]), cx = s[1];
    add(g, 'rect', {x: cx - 18.8, y: y(m), width: 37.6, height: p.y0 - y(m), fill: '#fff', stroke: '#222', 'stroke-width': 2.4}, k ? 'bar-ps' : 'bar-control');
    add(g, 'path', {d: 'M' + cx + ',' + y(m + e) + 'V' + y(m - e) + 'M' + (cx - 11) + ',' + y(m + e) + 'H' + (cx + 11) + 'M' + (cx - 11) + ',' + y(m - e) + 'H' + (cx + 11), fill: 'none', stroke: '#222', 'stroke-width': 2.4}, 'error-bar');
    s[0].forEach((v, i) => {
      add(g, 'circle', {cx: cx + s[2][i], cy: y(v), r: 4.6, fill: s[3]}, k ? 'point-ps' : 'point-control');
    });
    add(g, 'line', {x1: cx, x2: cx, y1: p.y0, y2: p.y0 + 9, stroke: '#222', 'stroke-width': 2.2}, 'x-tick');
    txt(g, 0, 0, groupNames[k], 24.5, 'end', 'x-tick-label', {transform: 'translate(' + (cx + 23 + p.labDx[k]) + ' ' + (p.y0 + 33 + p.labDy) + ') rotate(-30)'});
  });
  add(g, 'line', {x1: p.axisX, x2: p.axisX, y1: p.yTop - 1, y2: p.y0 + 1, stroke: '#222', 'stroke-width': 2.4}, 'y-axis-line');
  add(g, 'line', {x1: p.axisX - 9, x2: p.xEnd, y1: p.y0, y2: p.y0, stroke: '#222', 'stroke-width': 2.6}, 'x-axis-line');
  p.ticks.forEach((lab, i) => {
    const v = parseFloat(lab);
    add(g, 'line', {x1: p.axisX - 9, x2: p.axisX, y1: y(v), y2: y(v), stroke: '#222', 'stroke-width': 2.2}, 'y-tick');
    txt(g, p.axisX - 13, y(v) + 6.3, lab, 18.2, 'end', 'y-tick-label');
  });
  txt(g, 0, 0, 'Relative expressionto GAPDH', 18.1, 'middle', 'y-axis-title', {transform: 'translate(' + p.ylabX + ' ' + (p.y0 - p.ylabUp) + ') rotate(-90)'});
  add(g, 'path', {d: 'M' + p.br[0] + ',' + p.br[1] + 'V' + p.br[2] + 'H' + p.br[3] + 'V' + p.br[4], fill: 'none', stroke: '#222', 'stroke-width': 2.2}, 'significance-bracket');
  txt(g, p.starX, p.starY, p.star, 18.5, 'middle', 'significance-stars');
});
</script>
</body>
</html>
